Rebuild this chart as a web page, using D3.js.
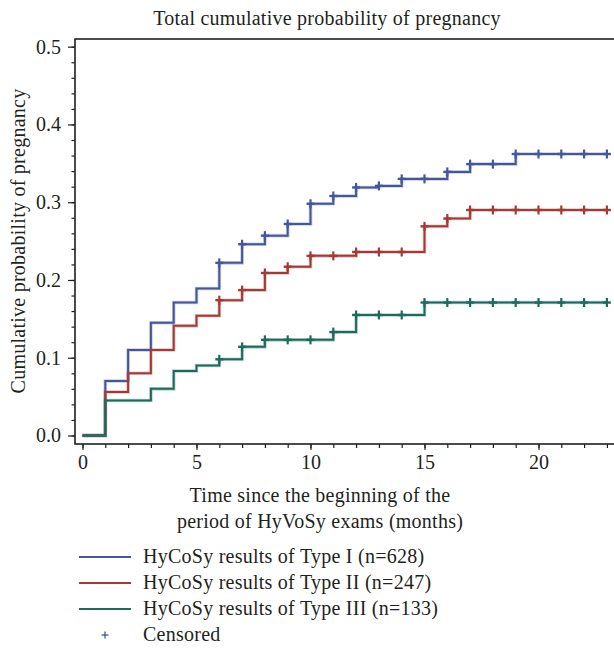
<!DOCTYPE html>
<html>
<head>
<meta charset="utf-8">
<script src="https://cdn.jsdelivr.net/npm/d3@7"></script>
<style>
  html, body { margin: 0; padding: 0; background: #fff; }
  svg { display: block; }
  text { font-family: "Liberation Serif", "Times New Roman", serif; fill: #231f20; }
</style>
</head>
<body>
<svg id="chart" width="614" height="652"></svg>
<script>
// ---- data ----
const months = [0,1,2,3,4,5,6,7,8,9,10,11,12,13,14,15,16,17,18,19,20,21,22,23];
const typeI   = [0,0.070,0.110,0.145,0.171,0.189,0.222,0.246,0.257,0.272,0.298,0.308,0.319,0.321,0.330,0.330,0.339,0.349,0.349,0.362,0.362,0.362,0.362,0.362];
const typeII  = [0,0.056,0.080,0.110,0.141,0.154,0.174,0.187,0.209,0.217,0.231,0.231,0.236,0.236,0.236,0.269,0.279,0.290,0.290,0.290,0.290,0.290,0.290,0.290];
const typeIII = [0,0.045,0.045,0.060,0.083,0.090,0.098,0.114,0.123,0.123,0.123,0.133,0.155,0.155,0.155,0.171,0.171,0.171,0.171,0.171,0.171,0.171,0.171,0.171];
const censoredMonths = [6,7,8,9,10,11,12,13,14,15,16,17,18,19,20,21,22,23];
const seriesNames = ["HyCoSy results of Type I (n=628)", "HyCoSy results of Type II (n=247)", "HyCoSy results of Type III (n=133)"];
const seriesColors = ["#44579a", "#a23b35", "#1d6b5d"];
const xTicksMajor = [0,5,10,15,20];
const yTicksMajor = [0,0.1,0.2,0.3,0.4,0.5];
const titleText = "Total cumulative probability of pregnancy";
const yTitle = "Cumulative probability of pregnancy";
const xTitleLines = ["Time since the beginning of the", "period of HyVoSy exams (months)"];

const seriesValues = [typeI, typeII, typeIII];

// ---- layout ----
const FS = 20;
const LS = "0.25px";
const svg = d3.select("#chart");
const frame = {left: 75, top: 39, right: 640, bottom: 444};
const x = d3.scaleLinear().domain([0, 23]).range([82.5, 606.9]);
const y = d3.scaleLinear().domain([0, 0.5]).range([435.5, 46.7]);

// frame
svg.append("rect")
  .attr("x", frame.left).attr("y", frame.top)
  .attr("width", frame.right - frame.left).attr("height", frame.bottom - frame.top)
  .attr("fill", "none").attr("stroke", "#231f20").attr("stroke-width", 1.6);

// x axis
const xMinor = d3.range(0, 24);
const xAxisG = svg.append("g").attr("transform", `translate(0,${frame.bottom})`);
xAxisG.call(d3.axisBottom(x).tickValues(xMinor).tickSize(4).tickFormat(""))
  .call(g => g.select(".domain").remove());
xAxisG.append("g").call(d3.axisBottom(x).tickValues(xTicksMajor).tickSize(6).tickPadding(5).tickFormat(d3.format("d")))
  .call(g => g.select(".domain").remove());
xAxisG.selectAll("line").attr("stroke", "#231f20").attr("stroke-width", 1.2);
xAxisG.selectAll("text").attr("font-size", FS).attr("fill", "#231f20")
  .style("font-family", "'Liberation Serif', serif");

// y axis
const yMinor = d3.range(0, 0.5001, 0.02);
const yAxisG = svg.append("g").attr("transform", `translate(${frame.left},0)`);
yAxisG.call(d3.axisLeft(y).tickValues(yMinor).tickSize(3.5).tickFormat(""))
  .call(g => g.select(".domain").remove());
yAxisG.append("g").call(d3.axisLeft(y).tickValues(yTicksMajor).tickSize(7).tickPadding(7).tickFormat(d3.format(".1f")))
  .call(g => g.select(".domain").remove());
yAxisG.selectAll("line").attr("stroke", "#231f20").attr("stroke-width", 1.2);
yAxisG.selectAll("text").attr("font-size", FS).attr("fill", "#231f20")
  .style("font-family", "'Liberation Serif', serif");

// step lines
const line = d3.line().x(d => x(d[0])).y(d => y(d[1])).curve(d3.curveStepAfter);
seriesValues.forEach((vals, i) => {
  const pts = months.map((m, j) => [m, vals[j]]);
  svg.append("path").datum(pts)
    .attr("fill", "none").attr("stroke", seriesColors[i]).attr("stroke-opacity", 0.3)
    .attr("stroke-width", 3.6).attr("d", line);
  svg.append("path").datum(pts)
    .attr("fill", "none").attr("stroke", seriesColors[i])
    .attr("stroke-width", 2).attr("d", line);
  // censored marks
  const cg = svg.append("g");
  censoredMonths.forEach(m => {
    const v = vals[months.indexOf(m)];
    const cx = x(m), cy = y(v);
    cg.append("line").attr("x1", cx).attr("x2", cx).attr("y1", cy - 4.5).attr("y2", cy + 4.5)
      .attr("stroke", seriesColors[i]).attr("stroke-width", 2.2);
    cg.append("line").attr("x1", cx - 4).attr("x2", cx + 4).attr("y1", cy).attr("y2", cy)
      .attr("stroke", seriesColors[i]).attr("stroke-width", 2.4);
  });
});

// title
svg.append("text").attr("x", 327).attr("y", 25).attr("text-anchor", "middle")
  .attr("font-size", FS).style("letter-spacing", LS).text(titleText);

// y title
svg.append("text").attr("transform", "translate(25,241) rotate(-90)")
  .attr("text-anchor", "middle").attr("font-size", FS).style("letter-spacing", LS).text(yTitle);

// x title
xTitleLines.forEach((t, i) => {
  svg.append("text").attr("x", 320).attr("y", 502 + i * 26)
    .attr("text-anchor", "middle").attr("font-size", FS).style("letter-spacing", LS).text(t);
});

// legend
const legY = [557, 583, 609];
seriesNames.forEach((name, i) => {
  svg.append("line").attr("x1", 79).attr("x2", 131).attr("y1", legY[i]).attr("y2", legY[i])
    .attr("stroke", seriesColors[i]).attr("stroke-width", 2);
  svg.append("text").attr("x", 143).attr("y", legY[i] + 6).attr("font-size", FS)
    .style("letter-spacing", LS).text(name);
});
const cy = 635;
svg.append("line").attr("x1", 105).attr("x2", 105).attr("y1", cy - 3.5).attr("y2", cy + 3.5)
  .attr("stroke", seriesColors[0]).attr("stroke-width", 1.3);
svg.append("line").attr("x1", 101.5).attr("x2", 108.5).attr("y1", cy).attr("y2", cy)
  .attr("stroke", seriesColors[0]).attr("stroke-width", 1.3);
svg.append("text").attr("x", 143).attr("y", cy + 6).attr("font-size", FS)
  .style("letter-spacing", LS).text("Censored");
</script>
</body>
</html>
